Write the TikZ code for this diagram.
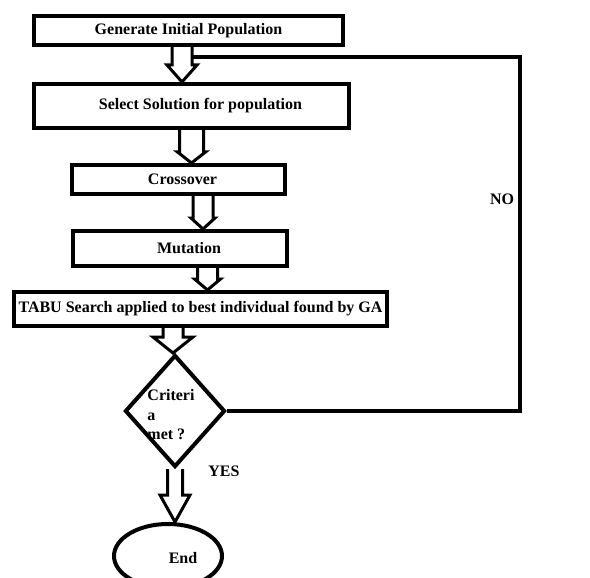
\documentclass[tikz,border=0pt]{standalone}
\usepackage{fontspec}
\setmainfont{Liberation Serif}
\usetikzlibrary{shapes.geometric,calc}

\tikzset{
	box/.style={draw, rectangle, line width=4pt, inner sep=1pt, text centered,
		font=\fontsize{16}{19.5}\selectfont\bfseries},
	lbl/.style={font=\fontsize{16}{19.5}\selectfont\bfseries},
	blockarrow/.style n args={3}{draw, line width=3pt, to path={
		let \p1=(\tikztostart), \p2=(\tikztotarget) in
		(\x1-#1pt,\y1) -- (\x1-#1pt,\y2+#3pt) -- (\x1-#2pt,\y2+#3pt) -- (\x1,\y2)
		-- (\x1+#2pt,\y2+#3pt) -- (\x1+#1pt,\y2+#3pt) -- (\x1+#1pt,\y1)}},
	loopline/.style={draw, line width=3.5pt}
}

\begin{document}
\begin{tikzpicture}[x=1pt, y=-1pt]
	\useasboundingbox (0,0) rectangle (590,578);
	
	%Steps of the GA
	\node (Generate) at (188.5,30.5) [box, minimum width=309pt, minimum height=29pt]{Generate Initial Population};
	\node (Select) at (191.5,106) [box, minimum width=315pt, minimum height=44pt]{\hspace{18pt}Select Solution for population};
	\node (Crossover) at (178.5,179.5) [box, minimum width=213pt, minimum height=29pt]{\hspace{8pt}Crossover};
	\node (Mutation) at (180,248.5) [box, minimum width=214pt, minimum height=35pt]{\hspace{18pt}Mutation};
	\node (Tabu) at (200.5,309) [box, inner xsep=0pt, minimum width=373pt, minimum height=34pt]{TABU Search applied to best individual found by GA};
	
	%Decision
	\node (Criteria) at (175,411) [draw, diamond, line width=4pt, inner sep=0pt, minimum width=100pt, minimum height=112pt]{};
	\node (Criteria text) at (171,415) [lbl, align=left, inner sep=0pt]{Criteri\\a\\met ?};
	
	%End
	\node (End) at (168,556) [draw, ellipse, line width=4pt, minimum width=108pt, minimum height=64pt]{};
	\node (End text) at (183,558) [lbl]{End};
	
	%Block arrows
	\draw[blockarrow={10}{15}{17}] ([xshift=-6.5pt]Generate.south) to (Select.north);
	\draw[blockarrow={12}{14}{11}] (Select.south) to (Crossover.north);
	\draw[blockarrow={10}{12}{11}] ([xshift=24.5pt]Crossover.south) to (Mutation.north);
	\draw[blockarrow={10}{13}{11}] ([xshift=27.5pt]Mutation.south) to (Tabu.north);
	\draw[blockarrow={10}{20}{16}] ([xshift=-27.5pt]Tabu.south) to (Criteria.north);
	\draw[blockarrow={7.5}{15}{27}] (Criteria.south) to (End.north);
	
	%Loop back
	\coordinate (corner) at (520,57);
	\coordinate (back) at (192,57);
	\draw[loopline] (Criteria.east) -| (corner) -- (back);
	
	%Labels
	\node (No) at (502,199) [lbl]{NO};
	\node (Yes) at (224,471) [lbl]{YES};
	
\end{tikzpicture}
\end{document}
